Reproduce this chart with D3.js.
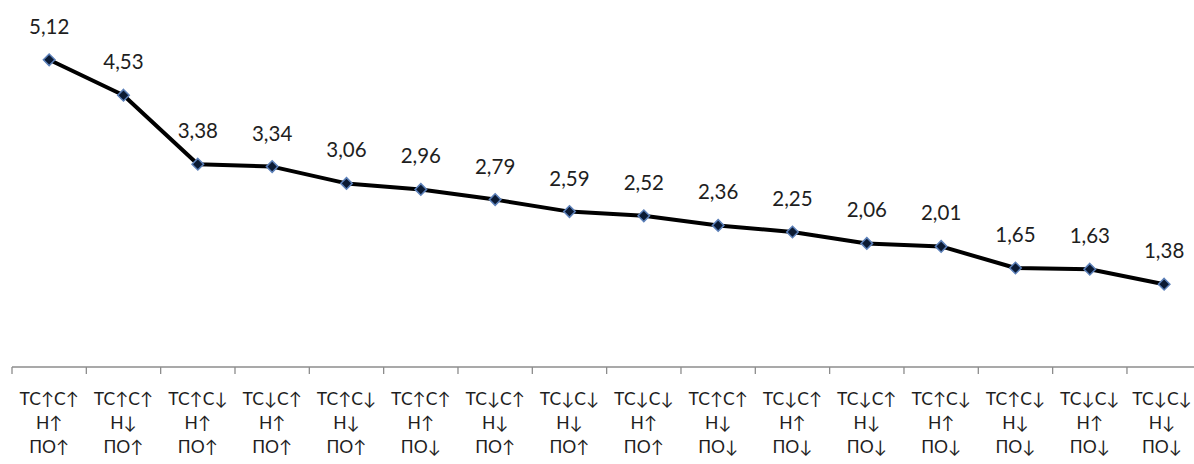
<!DOCTYPE html>
<html>
<head>
<meta charset="utf-8">
<script src="https://cdn.jsdelivr.net/npm/d3@7"></script>
<style>
  html, body { margin: 0; padding: 0; background: #fff; }
  svg { display: block; }
  text { font-family: Lato, "Open Sans", "DejaVu Sans", sans-serif; fill: #1e1e1e; }
</style>
</head>
<body>
<svg id="chart" width="1194" height="464"></svg>
<script>
const categories = [
  "ТС↑С↑|Н↑|ПО↑", "ТС↑С↑|Н↓|ПО↑", "ТС↑С↓|Н↑|ПО↑", "ТС↓С↑|Н↑|ПО↑",
  "ТС↑С↓|Н↓|ПО↑", "ТС↑С↑|Н↑|ПО↓", "ТС↓С↑|Н↓|ПО↑", "ТС↓С↓|Н↓|ПО↑",
  "ТС↓С↓|Н↑|ПО↑", "ТС↑С↑|Н↓|ПО↓", "ТС↓С↑|Н↑|ПО↓", "ТС↓С↑|Н↓|ПО↓",
  "ТС↑С↓|Н↑|ПО↓", "ТС↑С↓|Н↓|ПО↓", "ТС↓С↓|Н↑|ПО↓", "ТС↓С↓|Н↓|ПО↓"
];
const values = [5.12, 4.53, 3.38, 3.34, 3.06, 2.96, 2.79, 2.59, 2.52, 2.36, 2.25, 2.06, 2.01, 1.65, 1.63, 1.38];

const svg = d3.select("#chart");
const x = d3.scaleBand().domain(categories).range([12, 1201.3]).padding(0);
const y = d3.scaleLinear().domain([0, 6]).range([367, 7]);
const fmt = v => d3.format(".2f")(v).replace(".", ",");

// axis
const axis = svg.append("g").attr("transform", "translate(0,367)");
axis.append("line").attr("x1", 12).attr("x2", 1201.3).attr("y1", 0).attr("y2", 0)
  .attr("stroke", "#8c8c8c").attr("stroke-width", 1.3);
const tickPos = categories.map(c => x(c));
axis.selectAll("line.tick").data(tickPos).enter().append("line")
  .attr("class", "tick")
  .attr("x1", d => d).attr("x2", d => d).attr("y1", 0).attr("y2", 7)
  .attr("stroke", "#8c8c8c").attr("stroke-width", 1.3);

// category labels
const cx = c => x(c) + x.bandwidth() / 2;
const lab = svg.append("g").selectAll("text").data(categories).enter().append("text")
  .attr("text-anchor", "middle")
  .attr("font-size", 17.5);
lab.each(function(c, idx) {
  const parts = c.split("|");
  const t = d3.select(this);
  const px = idx === categories.length - 1 ? Math.min(cx(c), 1162) : cx(c);
  parts.forEach((p, i) => {
    t.append("tspan")
      .attr("x", px)
      .attr("y", 405 + i * 24)
      .text(p);
  });
});

// line
const line = d3.line().x((d, i) => cx(categories[i])).y(d => y(d));
svg.append("path").datum(values)
  .attr("d", line)
  .attr("fill", "none")
  .attr("stroke", "#000")
  .attr("stroke-width", 4)
  .attr("stroke-linejoin", "round");

// markers
const sym = d3.symbol().type(d3.symbolDiamond2).size(85);
svg.append("g").selectAll("path").data(values).enter().append("path")
  .attr("d", sym)
  .attr("transform", (d, i) => `translate(${cx(categories[i])},${y(d)})`)
  .attr("fill", "#0b1a33")
  .attr("stroke", "#5b7fb8")
  .attr("stroke-width", 1.5);

// value labels
svg.append("g").selectAll("text").data(values).enter().append("text")
  .attr("x", (d, i) => cx(categories[i]))
  .attr("y", d => y(d) - 26)
  .attr("text-anchor", "middle")
  .attr("font-size", 20.5)
  .text(d => fmt(d));
</script>
</body>
</html>
